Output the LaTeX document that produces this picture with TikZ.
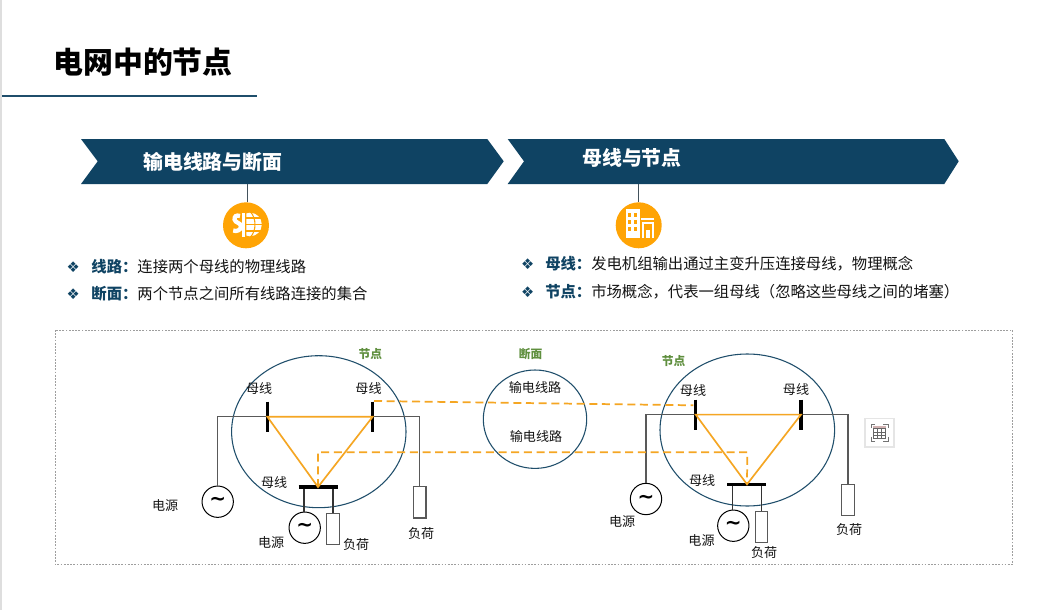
\documentclass[tikz,border=0pt]{standalone}
\usepackage{fontspec}
\setmainfont{Noto Sans CJK SC}
\newfontfamily\symfont{DejaVu Sans}
\usetikzlibrary{calc}
\definecolor{navy}{HTML}{0F4363}
\definecolor{ringc}{HTML}{1F4E6B}
\definecolor{amber}{HTML}{F5A623}
\definecolor{iconc}{HTML}{FFA405}
\definecolor{leaf}{HTML}{5F8F3E}
\definecolor{wirec}{HTML}{595959}
\definecolor{txt}{HTML}{141414}
\tikzset{
  x=0.75pt,y=-0.75pt,
  chevron/.style={fill=navy,draw=none},
  stem/.style={draw=wirec!70!navy,line width=0.8pt},
  iconbadge/.style={circle,fill=iconc,minimum size=34.5pt,inner sep=0pt},
  heading/.style={text=white,font=\fontsize{14.9}{16}\selectfont\bfseries,inner sep=0pt,anchor=west},
  bul/.style={text=navy,font=\symfont\fontsize{11}{12}\selectfont,inner sep=0pt},
  body/.style={text=txt,font=\fontsize{11.5}{14}\selectfont,inner sep=0pt,anchor=west},
  lab/.style={text=txt,font=\fontsize{9.8}{12}\selectfont,inner sep=0pt},
  grn/.style={text=leaf,font=\fontsize{8.8}{10}\selectfont\bfseries,inner sep=0pt},
  busbar/.style={draw=black,line width=2.3pt},
  wire/.style={draw=wirec,line width=0.95pt},
  wireb/.style={draw=black!80,line width=0.8pt},
  link/.style={draw=amber,line width=1.25pt},
  dlink/.style={draw=amber,line width=1.3pt,dash pattern=on 6pt off 3.5pt},
  gen/.style={circle,draw=black,line width=0.75pt,fill=white,minimum size=23.5pt,inner sep=0pt,font=\symfont\bfseries\fontsize{15}{15}\selectfont},
  load/.style={rectangle,draw=wirec,line width=0.9pt,fill=white,minimum width=9.2pt,minimum height=23.5pt,inner sep=0pt},
}
\newcommand{\tld}{∼}
\begin{document}
\begin{tikzpicture}
\useasboundingbox (0,0) rectangle (1056,610);
\fill[white] (0,0) rectangle (1056,610);
\fill[black!13] (0,0) rectangle (2,610);
% title
\node[inner sep=0pt,anchor=center,font=\fontsize{22.4}{26}\selectfont\bfseries] (title) at (143,62) {电网中的节点};
\draw[ringc,line width=1pt] (2,96) -- (257,96);
% chevrons
\fill[chevron] (81,139) -- (487.3,139) -- (503.7,161.3) -- (487.3,184) -- (81,184) -- (97.7,161.3) -- cycle;
\fill[chevron] (507.7,139) -- (944.3,139) -- (958.7,161.3) -- (944.3,184) -- (507.7,184) -- (524,161.3) -- cycle;
\node[heading] (h1) at (143,161.7) {输电线路与断面};
\node[heading] (h2) at (582,158.3) {母线与节点};
% badges
\coordinate (s1) at (247.3,184);
\coordinate (s2) at (638.3,184);
\node[iconbadge] (b1) at (246,225.3) {};
\node[iconbadge] (b2) at (638.7,225.3) {};
\draw[stem] (s1) -- (s1 |- b1.north);
\draw[stem] (s2) -- (s2 |- b2.north);
% globe icon
\begin{scope}
\clip (246.3,205) rectangle (270,245);
\fill[white] (250,224.5) circle (11.8);
\end{scope}
\draw[iconc,line width=0.8pt] (246,224.5) -- (264,224.5) (246,218) -- (262,218) (246,231) -- (262,231);
\draw[iconc,line width=0.8pt] (250.5,212) .. controls (256.5,218) and (256.5,231) .. (250.5,237);
\draw[white,line width=3.2pt] (240,216) .. controls (236,214.5) and (234.2,216.8) .. (234.6,219.5) .. controls (235,223) and (241,222.5) .. (241,226.5) .. controls (241,230) and (236.5,232) .. (233.2,230.5);
\fill[white] (241.6,213) rectangle (245,237);
% building icon
\fill[white] (626,209) rectangle (640,237.7);
\foreach \px in {629.5,635.5}\foreach \py in {215,222,229}
  \fill[iconc] (\px-1.4,\py-1.6) rectangle (\px+1.4,\py+1.6);
\fill[white] (641.3,218.3) rectangle (654.3,220.3);
\fill[white] (642,221.8) rectangle (654.3,237.7);
\fill[iconc] (644,224) rectangle (652.3,237.7);
\fill[white] (646,230) rectangle (650,237.7);
% bullets
\node[bul] (d1) at (73.3,266.7) {❖};
\node[bul] (d2) at (73.3,293.7) {❖};
\node[bul] (d3) at (527.7,264) {❖};
\node[bul] (d4) at (527.7,291.7) {❖};
\node[body] (t1) at (91.2,266.7) {\textcolor{navy}{\bfseries 线路：}连接两个母线的物理线路};
\node[body] (t2) at (91.2,293.7) {\textcolor{navy}{\bfseries 断面：}两个节点之间所有线路连接的集合};
\node[body] (t3) at (545,264) {\textcolor{navy}{\bfseries 母线：}发电机组输出通过主变升压连接母线，物理概念};
\node[body] (t4) at (545,291.7) {\textcolor{navy}{\bfseries 节点：}市场概念，代表一组母线（忽略这些母线之间的堵塞）};
% frame
\draw[black!38,line width=0.7pt,dash pattern=on 1.3pt off 1.1pt] (55,330) rectangle (1012.5,564.3);
% rings
\draw[ringc,line width=0.8pt] (318.8,431.7) ellipse [x radius=87.2,y radius=76];
\draw[ringc,line width=0.8pt] (535,419.2) ellipse [x radius=51.7,y radius=49.2];
\draw[ringc,line width=0.8pt] (747.3,430) ellipse [x radius=87.3,y radius=76];
% LEFT network
\coordinate (LA) at (267.3,416.7);
\coordinate (LB) at (372.7,416.7);
\coordinate (LC) at (318,487);
\node[gen] (Lg1) at (217.7,501.7) {\tld};
\node[gen] (Lg2) at (304.7,527.7) {\tld};
\node[load] (Ll1) at (419.8,502.3) {};
\node[load] (Ll2) at (333,529) {};
\draw[wire] (Lg1.north) |- (LA);
\draw[wire] (Ll1.north) |- (LB);
\draw[wireb] (304,487) -- (Lg2.north -| 304,0);
\draw[wireb] (Ll2.north) -- (Ll2.north |- LC);
\draw[busbar] (267.3,401.7) -- (267.3,432.3);
\draw[busbar] (372.7,401.7) -- (372.7,432.3);
\draw[busbar] (298.7,487) -- (337.7,487);
\draw[link] (LA) -- (LB) -- (LC) -- cycle;
% RIGHT network
\coordinate (RA) at (695.7,414.6);
\coordinate (RB) at (801,414.6);
\coordinate (RC) at (747,484.3);
\node[gen] (Rg1) at (646,499) {\tld};
\node[gen] (Rg2) at (733.3,525.7) {\tld};
\node[load] (Rl1) at (848,500) {};
\node[load] (Rl2) at (761.5,527) {};
\draw[wire] (Rg1.north) |- (RA);
\draw[wire] (Rl1.north) |- (RB);
\draw[wireb] (732.3,484.3) -- (Rg2.north -| 732.3,0);
\draw[wireb] (Rl2.north) -- (Rl2.north |- RC);
\draw[busbar] (695.7,399.7) -- (695.7,430);
\draw[busbar] (801,399.7) -- (801,430);
\draw[busbar] (727,484.3) -- (766,484.3);
\draw[link] (RA) -- (RB) -- (RC) -- cycle;
% dashed section lines
\coordinate (dA) at (374,401);
\coordinate (dB) at (693.3,405.3);
\draw[dlink] (dA) -- (dB);
\draw[dlink] (LC) |- (747.3,452.2) -- (RC);
% labels
\node[lab] (m1) at (259.2,388.3) {母线};
\node[lab] (m2) at (368.5,388.3) {母线};
\node[lab] (m3) at (274.2,482.3) {母线};
\node[lab] (m4) at (693,390.7) {母线};
\node[lab] (m5) at (796,389.3) {母线};
\node[lab] (m6) at (702.2,480.7) {母线};
\node[lab] (p1) at (165.2,505.3) {电源};
\node[lab] (p2) at (271.2,542.3) {电源};
\node[lab] (p3) at (622.2,521.3) {电源};
\node[lab] (p4) at (701.5,540.3) {电源};
\node[lab] (f1) at (356.2,544.3) {负荷};
\node[lab] (f2) at (421.2,533.7) {负荷};
\node[lab] (f3) at (764.2,552.7) {负荷};
\node[lab] (f4) at (849.2,529.3) {负荷};
\node[lab] (x1) at (535,388) {输电线路};
\node[lab] (x2) at (536,436.5) {输电线路};
\node[grn] (g1) at (370.3,354) {节点};
\node[grn] (g2) at (530.7,354) {断面};
\node[grn] (g3) at (673.7,360.7) {节点};
% floating toolbar button
\fill[black!10] (864,417.5) rectangle (894.5,448);
\fill[white] (865.5,418.5) rectangle (893,446);
\draw[black!55,line width=0.7pt] (871,428) |- (875,424) (883,424) -| (888,428) (888,437) |- (883,441) (875,441) -| (871,437);
\fill[red!40!black!30] (873,426) rectangle (885.5,428.5);
\draw[black!60,line width=0.7pt] (873,428.5) rectangle (885.5,438.5) (873,432) -- (885.5,432) (873,435.3) -- (885.5,435.3) (877,428.5) -- (877,438.5) (881.3,428.5) -- (881.3,438.5);
\end{tikzpicture}
\end{document}
